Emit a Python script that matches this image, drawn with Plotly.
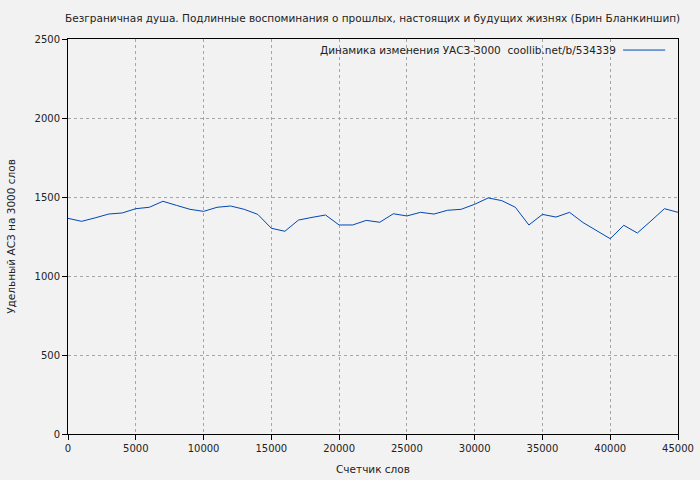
import plotly.graph_objects as go

words = [0, 1000, 2000, 3000, 4000, 5000, 6000, 7000, 8000, 9000, 10000,
         11000, 12000, 13000, 14000, 15000, 16000, 17000, 18000, 19000, 20000,
         21000, 22000, 23000, 24000, 25000, 26000, 27000, 28000, 29000, 30000,
         31000, 32000, 33000, 34000, 35000, 36000, 37000, 38000, 39000, 40000,
         41000, 42000, 43000, 44000, 45000]
values = [1365, 1346, 1368, 1392, 1399, 1426, 1435, 1473, 1447, 1422, 1409,
          1435, 1443, 1422, 1390, 1302, 1283, 1354, 1371, 1386, 1323,
          1323, 1352, 1340, 1394, 1380, 1403, 1392, 1416, 1422, 1454,
          1494, 1477, 1435, 1323, 1390, 1373, 1403, 1338, 1287, 1236,
          1321, 1272, 1348, 1426, 1403]

title = "Безграничная душа. Подлинные воспоминания о прошлых, настоящих и будущих жизнях (Брин Бланкиншип)"
legend_text = "Динамика изменения УАСЗ-3000  coollib.net/b/534339"
x_title = "Счетчик слов"
y_title = "Удельный АСЗ на 3000 слов"
x_ticks = [0, 5000, 10000, 15000, 20000, 25000, 30000, 35000, 40000, 45000]
y_ticks = [0, 500, 1000, 1500, 2000, 2500]

font = "DejaVu Sans"
fs = 10
fs_text = 10.5
line_color = "#0047b3"

fig = go.Figure()
fig.add_trace(go.Scatter(x=words, y=values, mode="lines",
                         line=dict(color=line_color, width=1),
                         showlegend=False, hoverinfo="skip"))

axis_common = dict(showline=True, linecolor="black", linewidth=1, mirror=True,
                   ticks="outside", ticklen=5, tickcolor="black",
                   showgrid=True, gridcolor="#a6a6a6", griddash="dot", gridwidth=1,
                   zeroline=False, automargin=False, tickformat="d",
                   tickfont=dict(family=font, size=fs, color="#222"))

fig.update_layout(
    width=700, height=480,
    paper_bgcolor="#f2f2f2", plot_bgcolor="#f2f2f2",
    margin=dict(l=68, r=22, t=39, b=46),
    font=dict(family=font, size=fs, color="#222"),
    title=dict(text=title, x=0.093, xanchor="left", y=0.962, yanchor="middle",
               font=dict(family=font, size=fs_text, color="#222")),
    xaxis=dict(range=[0, 45000], tickvals=x_ticks,
               title=dict(text=x_title, font=dict(family=font, size=fs_text), standoff=12),
               **axis_common),
    yaxis=dict(range=[0, 2500], tickvals=y_ticks,
               title=dict(text=y_title, font=dict(family=font, size=fs_text), standoff=16),
               **axis_common),
    annotations=[dict(text=legend_text, xref="paper", yref="paper",
                      x=0.902, y=0.972, xanchor="right", yanchor="middle",
                      showarrow=False, font=dict(family=font, size=fs_text, color="#222"))],
    shapes=[dict(type="line", xref="paper", yref="paper",
                 x0=0.910, x1=0.979, y0=0.972, y1=0.972,
                 line=dict(color=line_color, width=1))],
)

fig.write_html("out.html", config={"displayModeBar": False},
               post_script="document.body.style.margin='0';document.body.style.background='#f2f2f2';")
